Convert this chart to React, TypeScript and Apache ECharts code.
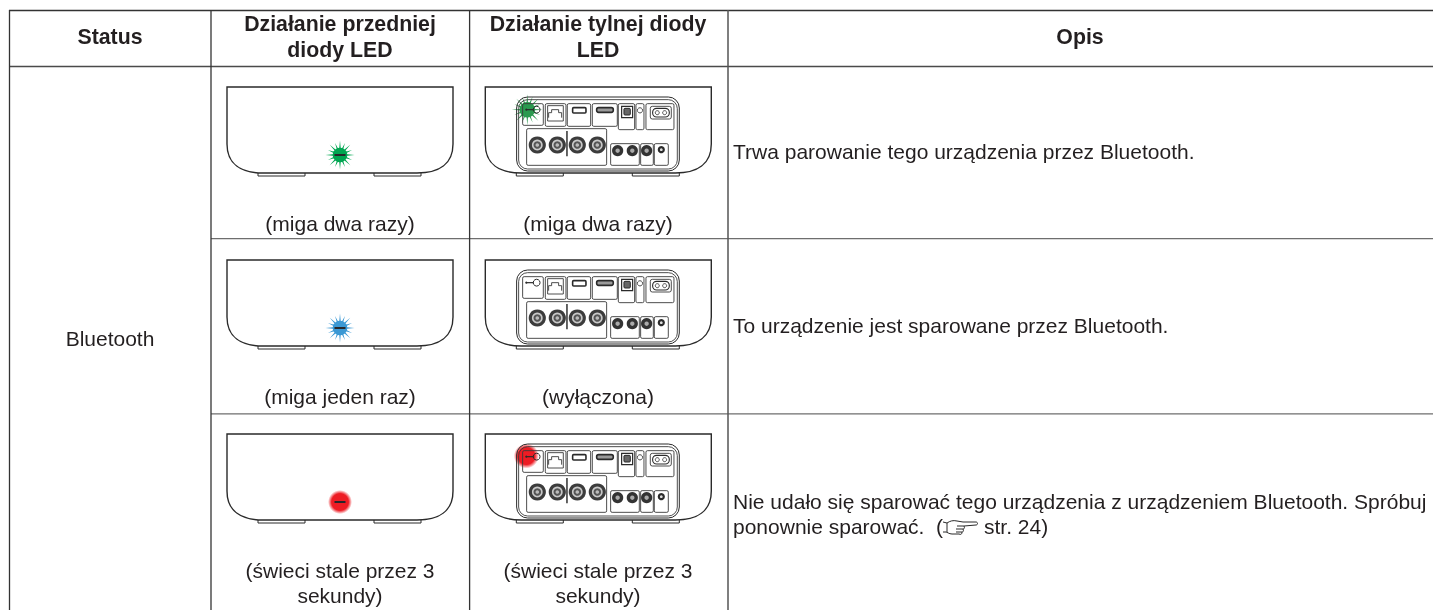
import React, { useEffect, useRef } from "react";
import * as echarts from "echarts";

const FONT = '"Liberation Sans", Arial, sans-serif';
const INK = "#231f20";

const headers = ["Status", ["Działanie przedniej", "diody LED"], ["Działanie tylnej diody", "LED"], "Opis"];
const statusLabel = "Bluetooth";
const frontCaptions = [["(miga dwa razy)"], ["(miga jeden raz)"], ["(świeci stale przez 3", "sekundy)"]];
const rearCaptions = [["(miga dwa razy)"], ["(wyłączona)"], ["(świeci stale przez 3", "sekundy)"]];
const descriptions = [
  ["Trwa parowanie tego urządzenia przez Bluetooth."],
  ["To urządzenie jest sparowane przez Bluetooth."],
  ["Nie udało się sparować tego urządzenia z urządzeniem Bluetooth. Spróbuj", "ponownie sparować.  ("],
];
const refEnd = "str. 24)";
const frontLeds = ["#00a651", "#3a98d4", "#ed1c24"];
const rearLeds = ["#2b9a4f", null, "#ed1c24"];
const rowTops = [87, 260, 434];

// Line art of the rear panel, in thirds of a pixel relative to the body corner
const rearBoxes = [
  [112, 50, 62, 65], [180, 50, 62, 68], [246, 50, 70, 68], [321, 50, 75, 68],
  [399, 50, 49, 78], [452, 50, 24, 78], [482, 50, 84, 78],
  [124, 125, 240, 110], [376, 170, 86, 65], [466, 170, 38, 65], [507, 170, 42, 65],
];
const rcaBig = [156, 216, 276, 336];
const rcaSmall = [397, 441, 484];

echarts.graphic.registerShape(
  "deviceBody",
  echarts.graphic.extendPath(
    "M0 0H226V57C226 77 212 86 190 86H36C14 86 0 77 0 57Z",
    {}
  )
);
echarts.graphic.registerShape(
  "deviceFeet",
  echarts.graphic.extendPath("M31 86V89H78V86M147 86V89H194V86", {})
);
echarts.graphic.registerShape(
  "lanGlyph",
  echarts.graphic.extendPath("M1 12V7H4V4H11V7H14V12", {})
);
echarts.graphic.registerShape(
  "handGlyph",
  echarts.graphic.extendPath(
    "M0 2L4 3C7 1 10 0 14 1L20 2L33 2C35 2 35 5 33 5L21 6C22 8 21 9 20 9C21 11 20 12 19 12C19 14 18 15 16 14L9 14C6 14 4 12 3 12L0 12M4 3V12M14 6H21M13 9H20M13 12H19",
    {}
  )
);

const line = (x1: number, y1: number, x2: number, y2: number, stroke: string, lineWidth = 1.3) => ({
  type: "line",
  shape: { x1, y1, x2, y2 },
  style: { stroke, lineWidth },
});

const label = (text: string, x: number, y: number, opts: any = {}) => ({
  type: "text",
  x,
  y,
  style: {
    text,
    font: `${opts.bold ? "bold " : ""}${opts.bold ? 21.3 : 21}px ${FONT}`,
    fill: INK,
    textAlign: opts.align || "center",
    textVerticalAlign: "middle",
  },
});

const burstPoints = (r1: number, r2: number, n: number) => {
  const pts: number[][] = [];
  for (let i = 0; i < n * 2; i++) {
    const a = (i * Math.PI) / n;
    const r = i % 2 === 0 ? (i % 4 === 0 ? r1 : r1 * 0.9) : r2;
    pts.push([r * Math.cos(a), r * Math.sin(a)]);
  }
  return pts;
};

const burst = (cx: number, cy: number, fill: string, big = 14.5) => ({
  type: "group",
  x: cx,
  y: cy,
  children: [
    { type: "polygon", shape: { points: burstPoints(big, 4.8, 16) }, style: { fill } },
    { type: "circle", shape: { cx: 0, cy: 0, r: big * 0.5 }, style: { fill } },
  ],
});

const glow = (cx: number, cy: number, solid: number, outer: number) => ({
  type: "circle",
  shape: { cx, cy, r: outer },
  style: {
    fill: {
      type: "radial",
      x: 0.5,
      y: 0.5,
      r: 0.5,
      colorStops: [
        { offset: 0, color: "#ed1c24" },
        { offset: solid / outer, color: "#ed1c24" },
        { offset: 1, color: "rgba(237,28,36,0)" },
      ],
    },
  },
});

const bodyParts = (lw = 1.4) => [
  { type: "deviceBody", style: { fill: "none", stroke: "#2a2a2a", lineWidth: lw } },
  { type: "deviceFeet", style: { fill: "none", stroke: "#2a2a2a", lineWidth: 1 } },
];

const frontDevice = (top: number, led: string, i: number) => {
  const cx = 340;
  const cy = top + 68;
  const parts: any[] = [{ type: "group", x: 227, y: top, children: bodyParts() }];
  if (i === 2) {
    parts.push(glow(cx, cy, 8.4, 12));
  } else {
    parts.push(burst(cx, cy, led));
  }
  parts.push({ type: "rect", shape: { x: cx - 5.5, y: cy - 1, width: 11, height: 2 }, style: { fill: "#26262a" } });
  return parts;
};

const rearDevice = (top: number, led: string | null, i: number) => {
  const lx = 485.3;
  const kids: any[] = [];
  const t = (v: number) => v / 3;
  const art = { fill: "none", stroke: "#2a2a2a", lineWidth: 1 };
  const thin = { fill: "none", stroke: "#3a3a3a", lineWidth: 0.9 };
  kids.push(...bodyParts());
  if (i === 0) kids.push(burst(t(126), t(68), led as string, 15.5));
  if (i === 2) kids.push(glow(t(123), t(66), 8.5, 12.5));
  kids.push(
    { type: "rect", shape: { x: t(94), y: t(30), width: t(488), height: t(222), r: 11 }, style: art },
    { type: "rect", shape: { x: t(100), y: t(38), width: t(476), height: t(208), r: 9 }, style: thin }
  );
  rearBoxes.forEach(([x, y, w, h]) => {
    kids.push({ type: "rect", shape: { x: t(x), y: t(y), width: t(w), height: t(h), r: 1.5 }, style: thin });
  });
  // key symbol
  kids.push(
    { type: "line", shape: { x1: t(122), y1: t(68), x2: t(145), y2: t(68) }, style: { stroke: "#2a2a2a", lineWidth: 1.2 } },
    { type: "circle", shape: { cx: t(123), cy: t(68), r: 1.1 }, style: { fill: "#2a2a2a" } },
    { type: "circle", shape: { cx: t(154), cy: t(68), r: 3.4 }, style: { fill: "none", stroke: "#2a2a2a", lineWidth: 1 } }
  );
  // lan
  kids.push(
    { type: "rect", shape: { x: t(187), y: t(56), width: t(47), height: t(46) }, style: thin },
    { type: "group", x: t(187), y: t(56), children: [{ type: "lanGlyph", style: thin }] }
  );
  // usb & hdmi
  kids.push(
    { type: "rect", shape: { x: t(262), y: t(62), width: t(40), height: t(16), r: 1 }, style: { fill: "#fff", stroke: "#2a2a2a", lineWidth: 1.6 } },
    { type: "rect", shape: { x: t(334), y: t(62), width: t(50), height: t(14), r: 2 }, style: { fill: "#9a9a9a", stroke: "#2a2a2a", lineWidth: 1.6 } }
  );
  // optical, small circle, mains inlet
  kids.push(
    { type: "rect", shape: { x: t(409), y: t(58), width: t(33), height: t(34) }, style: { fill: "none", stroke: "#2a2a2a", lineWidth: 1.2 } },
    { type: "rect", shape: { x: t(416), y: t(64), width: t(19), height: t(20), r: 1 }, style: { fill: "#666", stroke: "#2a2a2a", lineWidth: 1 } },
    { type: "circle", shape: { cx: t(464), cy: t(70), r: 2.6 }, style: thin },
    { type: "rect", shape: { x: t(495), y: t(58), width: t(63), height: t(38), r: 2 }, style: thin },
    { type: "rect", shape: { x: t(502), y: t(64), width: t(50), height: t(26), r: 4 }, style: { fill: "none", stroke: "#2a2a2a", lineWidth: 1.1 } },
    { type: "circle", shape: { cx: t(516), cy: t(77), r: 2 }, style: thin },
    { type: "circle", shape: { cx: t(538), cy: t(77), r: 2 }, style: thin }
  );
  // RCA
  rcaBig.forEach((cx) => {
    kids.push(
      { type: "circle", shape: { cx: t(cx), cy: t(174), r: 8.6 }, style: { fill: "#3c3c3c" } },
      { type: "circle", shape: { cx: t(cx), cy: t(174), r: 5.4 }, style: { fill: "#c9c9c9" } },
      { type: "circle", shape: { cx: t(cx), cy: t(174), r: 3.8 }, style: { fill: "#555" } },
      { type: "circle", shape: { cx: t(cx), cy: t(174), r: 1.8 }, style: { fill: "#bbb" } }
    );
  });
  rcaSmall.forEach((cx) => {
    kids.push(
      { type: "circle", shape: { cx: t(cx), cy: t(191), r: 5.6 }, style: { fill: "#333" } },
      { type: "circle", shape: { cx: t(cx), cy: t(191), r: 2.2 }, style: { fill: "#aaa" } }
    );
  });
  kids.push(
    { type: "circle", shape: { cx: t(528), cy: t(188), r: 3.6 }, style: { fill: "#2a2a2a" } },
    { type: "circle", shape: { cx: t(528), cy: t(188), r: 1.4 }, style: { fill: "#ddd" } },
    { type: "line", shape: { x1: t(245), y1: t(132), x2: t(245), y2: t(208) }, style: { stroke: "#111", lineWidth: 1.3 } }
  );
  return [{ type: "group", x: lx, y: top, children: kids }];
};

const buildGraphic = () => {
  const els: any[] = [];
  const dark = "#333333";
  const gray = "#6e6e6e";
  els.push(
    { type: "rect", shape: { x: 0, y: 0, width: 1433, height: 610 }, style: { fill: "#ffffff" } },
    line(9, 10.4, 1433, 10.4, dark, 1.5),
    line(9, 66.5, 1433, 66.5, "#4a4a4a", 1.4),
    line(211, 238.7, 1433, 238.7, gray),
    line(211, 413.8, 1433, 413.8, gray),
    line(9.5, 10, 9.5, 610, dark, 1.3),
    line(211, 10, 211, 610, dark, 1.3),
    line(469.6, 10, 469.6, 610, dark, 1.3),
    line(728, 10, 728, 610, "#555555", 1.5)
  );
  els.push(label(headers[0] as string, 110, 37, { bold: true }));
  (headers[1] as string[]).forEach((t, i) => els.push(label(t, 340, 24 + i * 26, { bold: true })));
  (headers[2] as string[]).forEach((t, i) => els.push(label(t, 598, 24 + i * 26, { bold: true })));
  els.push(label(headers[3] as string, 1080, 37, { bold: true }));
  els.push(label(statusLabel, 110, 338));
  const capY = [223, 396, 570];
  rowTops.forEach((top, i) => {
    els.push(...frontDevice(top, frontLeds[i], i));
    els.push(...rearDevice(top, rearLeds[i], i));
    frontCaptions[i].forEach((t, k) => els.push(label(t, 340, capY[i] + k * 25.5)));
    rearCaptions[i].forEach((t, k) => els.push(label(t, 598, capY[i] + k * 25.5)));
  });
  const descY = [151, 325, 501];
  descriptions.forEach((lines, i) =>
    lines.forEach((t, k) => els.push(label(t, 733, descY[i] + k * 25.5, { align: "left" })))
  );
  els.push({
    type: "group",
    x: 943,
    y: 520,
    children: [{ type: "handGlyph", style: { fill: "none", stroke: "#2a2a2a", lineWidth: 1 } }],
  });
  els.push(label(refEnd, 984, 526.5, { align: "left" }));
  return els;
};

export default function App() {
  const ref = useRef<HTMLDivElement>(null);
  useEffect(() => {
    const chart = echarts.init(ref.current as HTMLDivElement, undefined, { renderer: "svg" });
    chart.setOption({ animation: false, graphic: { elements: buildGraphic() } });
    return () => chart.dispose();
  }, []);
  return <div ref={ref} style={{ position: "fixed", left: 0, top: 0, width: 1433, height: 610 }} />;
}
